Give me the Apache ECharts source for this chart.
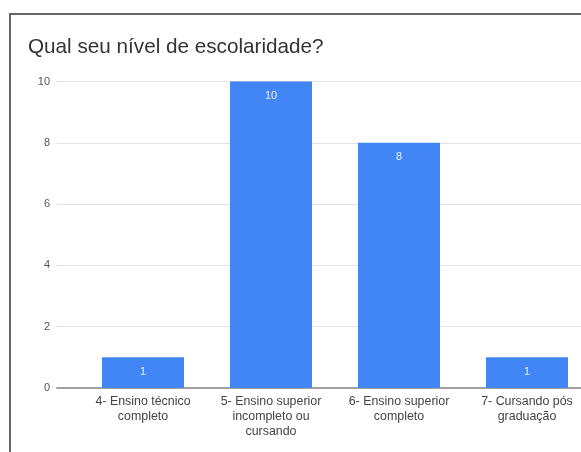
<!DOCTYPE html>
<html>
<head>
<meta charset="utf-8">
<script src="https://cdn.jsdelivr.net/npm/echarts@6/dist/echarts.min.js"></script>
<style>
  html, body { margin: 0; padding: 0; background: #fff; }
  #chart { width: 581px; height: 452px; }
</style>
</head>
<body>
<div id="chart"></div>
<script>
// Escolaridade dos respondentes
const categories = [
  '4- Ensino técnico\ncompleto',
  '5- Ensino superior\nincompleto ou\ncursando',
  '6- Ensino superior\ncompleto',
  '7- Cursando pós\ngraduação'
];
const counts = [1, 10, 8, 1];
const yTicks = { min: 0, max: 10, step: 2 };

const FONT = '"Liberation Sans", Arial, sans-serif';
const chart = echarts.init(document.getElementById('chart'), null, { renderer: 'canvas' });

chart.setOption({
  backgroundColor: '#ffffff',
  animation: false,
  title: {
    text: 'Qual seu nível de escolaridade?',
    left: 28,
    top: 37,
    padding: 0,
    textStyle: { fontFamily: FONT, fontSize: 20.7, fontWeight: 'normal', color: '#333333' }
  },
  graphic: [{
    type: 'rect',
    shape: { x: 10, y: 14, width: 620, height: 500 },
    style: { fill: null, stroke: '#666666', lineWidth: 2 },
    z: 100
  }],
  grid: [
    // gridlines + value ticks
    { left: 57, width: 534, top: 81.5, height: 306.5, outerBoundsMode: 'none' },
    // bars (plot area runs past the right edge of the canvas)
    { left: 79, width: 512, top: 81.5, height: 306.5, outerBoundsMode: 'none' }
  ],
  xAxis: [
    {
      gridIndex: 0, type: 'category', data: [''],
      axisLine: { show: true, lineStyle: { color: '#a0a0a0', width: 2 } },
      axisTick: { show: false }, axisLabel: { show: false }, splitLine: { show: false }
    },
    {
      gridIndex: 1, type: 'category', data: categories,
      axisLine: { show: false }, axisTick: { show: false },
      axisLabel: {
        interval: 0, margin: 6,
        fontFamily: FONT, fontSize: 12.4, lineHeight: 15, color: '#444444', align: 'center'
      }
    }
  ],
  yAxis: [
    {
      gridIndex: 0, type: 'value', min: yTicks.min, max: yTicks.max, interval: yTicks.step,
      axisLine: { show: false }, axisTick: { show: false },
      axisLabel: { margin: 7, fontFamily: FONT, fontSize: 11, color: '#555555' },
      splitLine: { show: true, lineStyle: { color: '#e3e3e3', width: 1 } }
    },
    {
      gridIndex: 1, type: 'value', min: yTicks.min, max: yTicks.max, interval: yTicks.step,
      show: false, splitLine: { show: false }
    }
  ],
  series: [{
    type: 'bar',
    xAxisIndex: 1, yAxisIndex: 1,
    data: counts,
    barWidth: 82,
    itemStyle: { color: '#4285f4' },
    label: {
      show: true, position: 'insideTop', distance: 9,
      fontFamily: FONT, fontSize: 11, color: '#e8efff'
    },
    z: 3
  }]
});
</script>
</body>
</html>
